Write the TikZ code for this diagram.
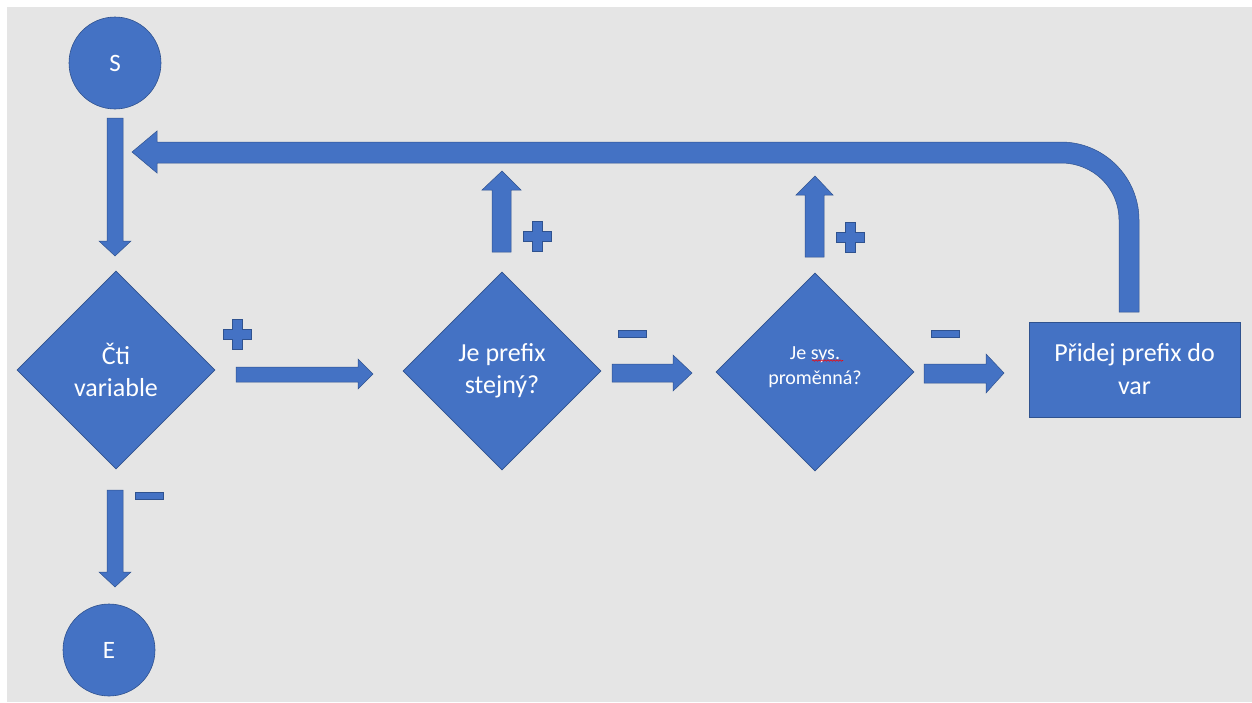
\documentclass[tikz,border=0pt]{standalone}
\usepackage{fontspec}
\setmainfont{Carlito}
\usetikzlibrary{shapes.geometric,decorations.pathmorphing}
\definecolor{bgray}{HTML}{E5E5E5}
\definecolor{oblue}{HTML}{4472C4}
\definecolor{oedge}{HTML}{2F528F}
\begin{document}
\begin{tikzpicture}[x=1pt,y=-1pt,
  shapefill/.style={fill=oblue,draw=oedge,line width=0.6pt},
  blockarrow/.style={fill=oblue,draw=oedge,line width=0.5pt},
  pmsign/.style={fill=oblue,draw=oedge,line width=0.4pt},
  whitetext/.style={text=white,align=center},
  bigtext/.style={font=\fontsize{26}{32}\selectfont},
  terminal/.style={shapefill,circle,minimum size=92pt,inner sep=0pt,whitetext,font=\fontsize{25}{30}\selectfont},
  decision/.style={shapefill,diamond,minimum width=198pt,minimum height=198pt,inner sep=0pt,whitetext},
  process/.style={shapefill,rectangle,minimum width=211pt,minimum height=95pt,inner sep=0pt,whitetext,font=\fontsize{26}{33}\selectfont}
]
\useasboundingbox (0,0) rectangle (1252,702);
\fill[white] (0,0) rectangle (1252,702);
\fill[bgray] (7,7) rectangle (1252,702);

% flow nodes
\node[terminal] (start) at (115,63) {S};
\node[terminal] (end) at (109,650) {E};
\node[decision,bigtext] (read) at (116,370) {Čti\\variable};
\node[decision,bigtext] (same) at (502,371) {Je prefix\\stejný?};
\node[decision] (sysvar) at (815,372) {};
\node[whitetext,font=\fontsize{20}{25}\selectfont,inner sep=0pt] (sysvartext) at ([yshift=5pt]sysvar.center) {Je sys.\\proměnná?};
\node[process] (addpfx) at (1134.5,369.5) {Přidej prefix do\\var};

% spell-check underline
\draw[red,line width=0.6pt,decorate,decoration={snake,amplitude=0.7pt,segment length=3pt}]
  (812,360.5) -- (843,360.5);

% block arrows
\path[blockarrow] (107,118) -- (123,118) -- (123,241) -- (131,241) -- (115,256) -- (99,241) -- (107,241) -- cycle;
\path[blockarrow] (132,152) -- (157,131) -- (157,142) -- (1061,142)
  .. controls (1104,142) and (1139,177) .. (1139,220) -- (1139,312) -- (1119,312) -- (1119,220)
  .. controls (1119,188) and (1093,163) .. (1061,163) -- (157,163) -- (157,173) -- cycle;
\path[blockarrow] (236,367) -- (358,367) -- (358,359) -- (373,374) -- (358,389) -- (358,382) -- (236,382) -- cycle;
\path[blockarrow] (492,252) -- (492,190) -- (482,190) -- (502,171) -- (521,190) -- (511,190) -- (511,252) -- cycle;
\path[blockarrow] (612,364) -- (673,364) -- (673,355) -- (692,373) -- (673,391) -- (673,382) -- (612,382) -- cycle;
\path[blockarrow] (805,257) -- (805,195) -- (796,195) -- (815,176) -- (833,195) -- (824,195) -- (824,257) -- cycle;
\path[blockarrow] (924,364) -- (986,364) -- (986,354) -- (1004,373) -- (986,393) -- (986,383) -- (924,383) -- cycle;
\path[blockarrow] (107,490) -- (123,490) -- (123,572) -- (131,572) -- (115,587) -- (99,572) -- (107,572) -- cycle;

% plus and minus signs
\foreach \cx/\cy in {237/334, 537/236, 850/237}
  \path[pmsign,shift={(\cx,\cy)}] (-14,-5) -- (-5,-5) -- (-5,-15) -- (5,-15) -- (5,-5) -- (14,-5)
    -- (14,5) -- (5,5) -- (5,15) -- (-5,15) -- (-5,5) -- (-14,5) -- cycle;
\foreach \cx/\cy in {632/334, 945/334, 149/496}
  \path[pmsign,shift={(\cx,\cy)}] (-14,-3.5) rectangle (14,3.5);
\end{tikzpicture}
\end{document}
